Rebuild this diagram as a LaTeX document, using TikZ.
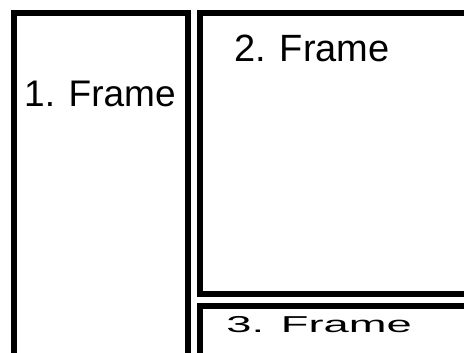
\documentclass[tikz,border=0pt]{standalone}
\usepackage{fontspec}
\setmainfont{Liberation Sans}
\begin{document}
\begin{tikzpicture}[x=1pt,y=-1pt,
  framebox/.style={draw=black,line width=6pt},
  framelabel/.style={anchor=base west,inner sep=0pt,font=\fontsize{37}{40}\selectfont}]
\useasboundingbox (0,0) rectangle (464,353);
\fill[white] (0,0) rectangle (464,353);
\begin{scope}
\clip (0,0) rectangle (464,353);
\draw[framebox] (14,13) rectangle (188,380);
\draw[framebox] (199.5,13) rectangle (490,293.5);
\draw[framebox] (199.5,305.5) rectangle (490,380);
\end{scope}
\node[framelabel] (f1) at (24,107) {1. Frame};
\node[framelabel,font=\fontsize{38}{40}\selectfont] (f2) at (234,62) {2. Frame};
\node[framelabel,font=\fontsize{23}{25}\selectfont,xscale=1.97] (f3) at (226,332) {3. Frame};
\end{tikzpicture}
\end{document}
